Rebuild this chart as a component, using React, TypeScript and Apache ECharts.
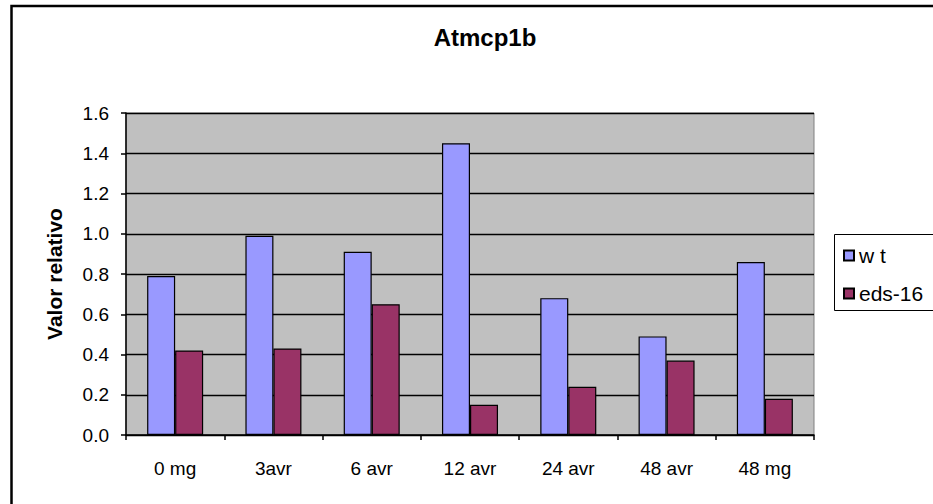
import React, { useEffect, useRef } from "react";
import * as echarts from "echarts";

// Relative expression of Atmcp1b per treatment, wild type vs eds-16
const categories = ["0 mg", "3avr", "6 avr", "12 avr", "24 avr", "48 avr", "48 mg"];
const wtValues = [0.79, 0.99, 0.91, 1.45, 0.68, 0.49, 0.86];
const edsValues = [0.42, 0.43, 0.65, 0.15, 0.24, 0.37, 0.18];
const seriesNames = ["w t", "eds-16"];

const FONT = "Liberation Sans, Arial, sans-serif";

export default function App() {
  const ref = useRef<HTMLDivElement>(null);

  useEffect(() => {
    if (!ref.current) return;
    const chart = echarts.init(ref.current, null, { renderer: "svg" });
    chart.setOption({
      animation: false,
      backgroundColor: "#ffffff",
      textStyle: { fontFamily: FONT, color: "#000" },
      title: {
        text: "Atmcp1b",
        left: 480,
        top: 20,
        textAlign: "center",
        textStyle: { fontFamily: FONT, fontWeight: "bold", fontSize: 24, color: "#000" },
      },
      graphic: [
        {
          type: "rect",
          silent: true,
          shape: { x: 11.5, y: 6, width: 1000, height: 600 },
          style: { fill: "none", stroke: "#000", lineWidth: 2.5 },
        },
        {
          type: "rect",
          silent: true,
          shape: { x: 834.5, y: 234.5, width: 200, height: 76 },
          style: { fill: "none", stroke: "#000", lineWidth: 1 },
        },
      ],
      legend: {
        orient: "vertical",
        left: 838,
        top: 240,
        itemWidth: 10,
        itemHeight: 10,
        itemGap: 17,
        icon: "rect",
        textStyle: { fontFamily: FONT, fontSize: 21, color: "#000" },
        data: seriesNames,
      },
      grid: {
        left: 126,
        right: 119,
        top: 113,
        bottom: 69,
        show: true,
        backgroundColor: "#C0C0C0",
        borderColor: "#808080",
        borderWidth: 1,
      },
      xAxis: {
        type: "category",
        data: categories,
        axisLine: { show: true, lineStyle: { color: "#000", width: 1.5 } },
        axisTick: { show: true, alignWithLabel: false, length: 5, lineStyle: { color: "#000", width: 1.5 } },
        axisLabel: { color: "#000", fontSize: 19, fontFamily: FONT, margin: 24 },
        splitLine: { show: false },
      },
      yAxis: {
        type: "value",
        min: 0,
        max: 1.6,
        interval: 0.2,
        name: "Valor relativo",
        nameLocation: "middle",
        nameGap: 61,
        nameTextStyle: { fontFamily: FONT, fontWeight: "bold", fontSize: 21, color: "#000" },
        axisLine: { show: true, lineStyle: { color: "#000", width: 1.5 } },
        axisTick: { show: true, length: 5, lineStyle: { color: "#000", width: 1.5 } },
        axisLabel: {
          color: "#000",
          fontSize: 19,
          fontFamily: FONT,
          margin: 17,
          formatter: (v: number) => v.toFixed(1),
        },
        splitLine: { show: true, lineStyle: { color: "#000", width: 1.4 } },
      },
      series: [
        {
          name: seriesNames[0],
          type: "bar",
          data: wtValues,
          barGap: "0%",
          barCategoryGap: "43%",
          itemStyle: { color: "#9999FF", borderColor: "#000", borderWidth: 1.2 },
        },
        {
          name: seriesNames[1],
          type: "bar",
          data: edsValues,
          barGap: "0%",
          barCategoryGap: "43%",
          itemStyle: { color: "#993366", borderColor: "#000", borderWidth: 1.2 },
        },
      ],
    });
    return () => chart.dispose();
  }, []);

  return (
    <div
      ref={ref}
      style={{ position: "fixed", left: 0, top: 0, width: 933, height: 504 }}
    />
  );
}
